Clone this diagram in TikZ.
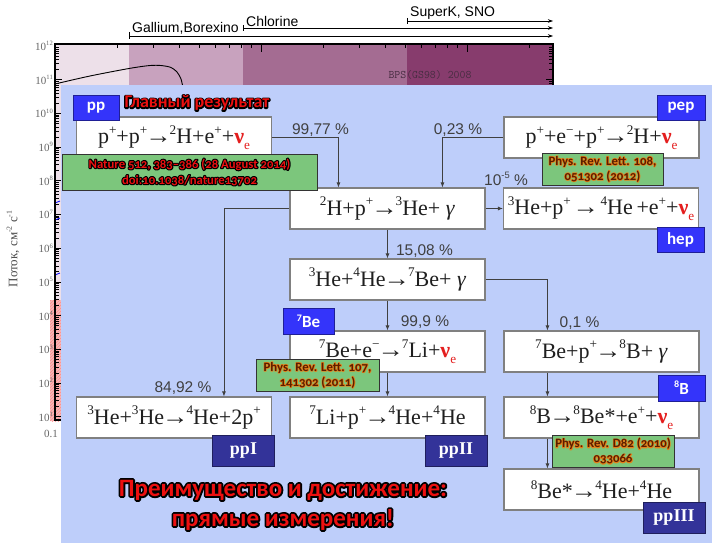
\documentclass[tikz,border=0pt]{standalone}
\usepackage{fontspec}
\usepackage{graphicx}
\usetikzlibrary{arrows.meta,patterns}
\setmainfont{Liberation Serif}
\newfontfamily\arialf{Liberation Sans}
\newfontfamily\calf[Numbers=OldStyle]{Carlito}
\definecolor{panel}{RGB}{190,206,250}
\definecolor{brblue}{RGB}{52,52,250}
\definecolor{navy}{RGB}{51,51,153}
\definecolor{refgreen}{RGB}{124,198,124}
\definecolor{boxgray}{RGB}{128,128,128}
\definecolor{txtgray}{RGB}{64,64,64}
\definecolor{nured}{RGB}{228,30,30}
\definecolor{hotred}{RGB}{236,16,16}
\definecolor{band1}{RGB}{237,224,233}
\definecolor{band2}{RGB}{200,162,190}
\definecolor{band3}{RGB}{164,108,146}
\definecolor{band4}{RGB}{135,60,109}
\definecolor{refbrown}{RGB}{90,30,0}
\definecolor{hatchred}{RGB}{246,185,185}
\definecolor{bpsgray}{RGB}{72,45,66}
\newcommand\su[1]{\raisebox{0.42em}{\scalebox{0.6}{#1}}}
\newcommand\nue{\textcolor{nured}{\textbf{ν}\raisebox{-0.28em}{\scalebox{0.6}{e}}}}
\newcommand\ra{\kern-2pt\scalebox{1.2}[1.05]{→}\kern-2pt}
% stroked (outline only) text: #1 stroke colour (r g b), #2 width, #3 text
\newcommand\stk[3]{\special{pdf:literal direct #1 RG #2 w 1 j 1 Tr}#3\special{pdf:literal direct 0 Tr}}
\tikzset{
 fbox/.style={draw=boxgray, line width=1.1pt, fill=white, minimum width=195pt, minimum height=41pt, inner sep=0pt, text=black!88, font=\fontsize{22}{22}\selectfont},
 tagb/.style={fill=brblue, draw=brblue!60!black, line width=0.6pt, text=white, inner sep=0pt, font=\calf\bfseries\fontsize{17}{17}\selectfont},
 tagn/.style={fill=navy, draw=navy!60!black, line width=0.6pt, text=white, inner sep=0pt, minimum width=62pt, minimum height=31pt, font=\bfseries\fontsize{18}{18}\selectfont},
 refbox/.style={fill=refgreen, draw=black!80, line width=0.8pt, inner sep=0pt},
 reftxt/.style={inner sep=0pt, align=center},
 refa/.style={reftxt, text=hotred, font=\calf\bfseries\fontsize{12.7}{16}\selectfont},
 refb/.style={reftxt, text=refbrown, font=\calf\bfseries\fontsize{12.8}{15}\selectfont},
 pct/.style={text=txtgray, font=\arialf\fontsize{15.5}{15.5}\selectfont, inner sep=0pt},
 arr/.style={draw=black!75, line width=0.8pt, -{Latex[length=5pt,width=4pt]}},
 det/.style={line width=0.6pt, -{Stealth[length=5pt,width=3.5pt]}},
 detl/.style={anchor=west, inner sep=0pt, font=\arialf\fontsize{14}{14}\selectfont},
 ytl/.style={inner sep=0pt, text=black!60, font=\fontsize{11}{11}\selectfont},
 bigt/.style={inner sep=0pt, align=center, text=hotred, font=\calf\bfseries\fontsize{25}{30}\selectfont},
 titt/.style={inner sep=0pt, text=hotred, font=\calf\bfseries\fontsize{18}{18}\selectfont},
}
\begin{document}
\begin{tikzpicture}[x=1pt,y=-1pt]
\useasboundingbox (0,0) rectangle (712,543);
\fill[white] (0,0) rectangle (712,543);
% ---- plot background ----
\fill[band1] (55,44) rectangle (129,420);
\fill[band2] (129,44) rectangle (243,420);
\fill[band3] (243,44) rectangle (407,420);
\fill[band4] (407,44) rectangle (553,420);
\fill[hatchred] (50,300) rectangle (61,421);
\fill[pattern=north east lines,pattern color=red!45] (50,300) rectangle (61,421);
% left/right axis ticks
\foreach \k in {1,...,11} {
  \pgfmathsetmacro\yk{46+(12-\k)*33.7}
  \draw[line width=0.8pt] (55,\yk) -- (62,\yk);
  \draw[line width=0.8pt] (553,\yk) -- (546,\yk);
  \foreach \m in {2,...,9} {
    \pgfmathsetmacro\yy{\yk-33.7*ln(\m)/ln(10)}
    \draw[line width=0.6pt] (55,\yy) -- (59,\yy);
    \draw[line width=0.6pt] (553,\yy) -- (549,\yy);
  }
}
% top axis ticks
\foreach \d in {0,1,2} {
  \foreach \m in {1,...,9} {
    \pgfmathsetmacro\xx{55+206*(\d+ln(\m)/ln(10))}
    \pgfmathparse{\xx<553 ? 1 : 0}
    \ifnum\pgfmathresult=1
      \ifnum\m=1 \draw[line width=0.9pt] (\xx,44) -- (\xx,52);
      \else \draw[line width=0.6pt] (\xx,44) -- (\xx,48); \fi
    \fi
  }
}
\foreach \b in {202,219,274} {
  \draw[blue, line width=0.8pt] (55,\b+1) -- (60,\b-1);
}
\draw[line width=1.4pt] (55,44) rectangle (553,420);
\draw[line width=0.9pt] plot[smooth] coordinates {(55,84) (90,76) (129,68.5) (150,65.5) (162,65.6) (171,67.5) (177,72) (181,79) (183,88)};
\node[inner sep=0pt, text=bpsgray, font=\ttfamily\fontsize{11.5}{11.5}\selectfont] (bps) at (430,75) {BPS(GS98) 2008};
\foreach \k in {1,...,12} {
  \pgfmathsetmacro\yk{46+(12-\k)*33.7}
  \node[ytl, anchor=east] (yl\k) at (53,\yk) {10\su{\k}};
}
\node[ytl] (x01) at (51,434) {0.1};
\node[rotate=90, inner sep=0pt, text=black!70, font=\fontsize{13}{13}\selectfont] (ytitle) at (13,249) {Поток, см\su{-2} с\su{-1}};
% detector ranges
\draw[line width=0.6pt] (129,32) -- (129,39);
\draw[det] (129,36) -- (553,36);
\draw[line width=0.6pt] (243,25) -- (243,31);
\draw[det] (243,28) -- (553,28);
\draw[line width=0.6pt] (407,18) -- (407,24);
\draw[det] (407,21) -- (553,21);
\node[detl] (gal) at (132,28) {Gallium,Borexino};
\node[detl] (chl) at (246,21) {Chlorine};
\node[detl] (sk) at (410,13) {SuperK, SNO};
% ---- panel ----
\fill[panel] (61,85) rectangle (712,543);
% ---- reaction boxes ----
\node[fbox] (ppbox) at (174,137.5) {p\su{+}+p\su{+}\ra\su{2}H+e\su{+}+\nue};
\node[fbox] (pepbox) at (601.5,137.5) {p\su{+}+e\su{−}+p\su{+}\ra\su{2}H+\nue};
\node[fbox] (b2) at (387.5,208.5) {\su{2}H+p\su{+}\ra\su{3}He+ \textit{γ}};
\node[fbox] (hepbox) at (601,208.5) {\su{3}He+p\su{+}\,\ra\,\su{4}He\,+e\su{+}+\nue};
\node[fbox] (b3) at (387.5,279.5) {\su{3}He+\su{4}He\ra\su{7}Be+ \textit{γ}};
\node[fbox] (b4) at (387.5,351.5) {\su{7}Be+e\su{−}\ra\su{7}Li+\nue};
\node[fbox] (b8Bp) at (601.5,351.5) {\su{7}Be+p\su{+}\ra\su{8}B+ \textit{γ}};
\node[fbox] (ppIbox) at (174,417.5) {\su{3}He+\su{3}He\ra\su{4}He+2p\su{+}};
\node[fbox] (ppIIbox) at (387.5,417.5) {\su{7}Li+p\su{+}\ra\su{4}He+\su{4}He};
\node[fbox] (b8B) at (601.5,417.5) {\su{8}B\ra\su{8}Be*+e\su{+}+\nue};
\node[fbox] (b8Be) at (601.5,489.5) {\su{8}Be*\ra\su{4}He+\su{4}He};
% ---- connectors ----
\draw[arr] (ppbox.east) -| ([xshift=49pt]b2.north west);
\draw[arr] (pepbox.west) -| ([xshift=153pt]b2.north west);
\draw[arr] (b2.east) -- (hepbox.west);
\draw[arr] (b2.south) -- (b3.north);
\draw[arr] (b2.west) -| ([xshift=148pt]ppIbox.north west);
\draw[arr] (b3.east) -| ([xshift=44pt]b8Bp.north west);
\draw[arr] (b3.south) -- (b4.north);
\draw[arr] (b4.south) -- (ppIIbox.north);
\draw[arr] ([xshift=44pt]b8Bp.south west) -- ([xshift=44pt]b8B.north west);
\draw[arr] ([xshift=44pt]b8B.south west) -- ([xshift=44pt]b8Be.north west);
% ---- percentages ----
\node[pct] (p1) at (320.5,130) {99,77 \%};
\node[pct] (p2) at (458,130) {0,23 \%};
\node[pct] (p3) at (506,179) {10\su{-5} \%};
\node[pct] (p4) at (424.5,251) {15,08 \%};
\node[pct] (p5) at (183,388) {84,92 \%};
\node[pct] (p6) at (425,322) {99,9 \%};
\node[pct] (p7) at (579.5,323) {0,1 \%};
% ---- tags ----
\node[tagb, minimum width=46pt, minimum height=25pt] (tpp) at (96,107.5) {pp};
\node[tagb, minimum width=48pt, minimum height=25pt] (tpep) at (681,107.5) {pep};
\node[tagb, minimum width=47pt, minimum height=25pt] (thep) at (680.5,239.5) {hep};
\node[tagb, minimum width=51pt, minimum height=26pt] (tbe) at (308.5,321) {\su{7}Be};
\node[tagb, minimum width=47pt, minimum height=26pt] (tb8) at (681.5,388) {\su{8}B};
\node[tagn] (tppI) at (243.5,450.5) {ppI};
\node[tagn] (tppII) at (456,450.5) {ppII};
\node[tagn] (tppIII) at (674,518) {ppIII};
% ---- references ----
\node[refbox, minimum width=255pt, minimum height=36pt] (r1) at (189.5,172) {};
\node[refa] (r1s) at (r1) {\stk{0 0 0}{2.2}{Nature 512, 383–386 (28 August 2014)}\\\stk{0 0 0}{2.2}{doi:10.1038/nature13702}};
\node[refa] (r1t) at (r1) {Nature 512, 383–386 (28 August 2014)\\doi:10.1038/nature13702};
\node[refbox, minimum width=121pt, minimum height=32pt] (r2) at (602.5,169) {};
\node[refb] (r2s) at (r2) {\stk{0.9 0.5 0.1}{1.4}{Phys. Rev. Lett. 108,}\\\stk{0.9 0.5 0.1}{1.4}{051302 (2012)}};
\node[refb] (r2t) at (r2) {Phys. Rev. Lett. 108,\\051302 (2012)};
\node[refbox, minimum width=123pt, minimum height=32pt] (r3) at (317.5,375) {};
\node[refb] (r3s) at (r3) {\stk{0.9 0.5 0.1}{1.4}{Phys. Rev. Lett. 107,}\\\stk{0.9 0.5 0.1}{1.4}{141302 (2011)}};
\node[refb] (r3t) at (r3) {Phys. Rev. Lett. 107,\\141302 (2011)};
\node[refbox, minimum width=122pt, minimum height=32pt] (r4) at (613,451) {};
\node[refb] (r4s) at (r4) {\stk{0.9 0.5 0.1}{1.4}{Phys. Rev. D82 (2010)}\\\stk{0.9 0.5 0.1}{1.4}{033066}};
\node[refb] (r4t) at (r4) {Phys. Rev. D82 (2010)\\033066};
% ---- red titles ----
\node[titt] (titles) at (197,103) {\stk{0 0 0}{2.6}{Главный результат}};
\node[titt] (title) at (197,103) {Главный результат};
\node[bigt] (bigs) at (283,505) {\stk{0 0 0}{3.6}{Преимущество и достижение:}\\\stk{0 0 0}{3.6}{прямые измерения!}};
\node[bigt] (big) at (283,505) {Преимущество и достижение:\\прямые измерения!};
\end{tikzpicture}
\end{document}
